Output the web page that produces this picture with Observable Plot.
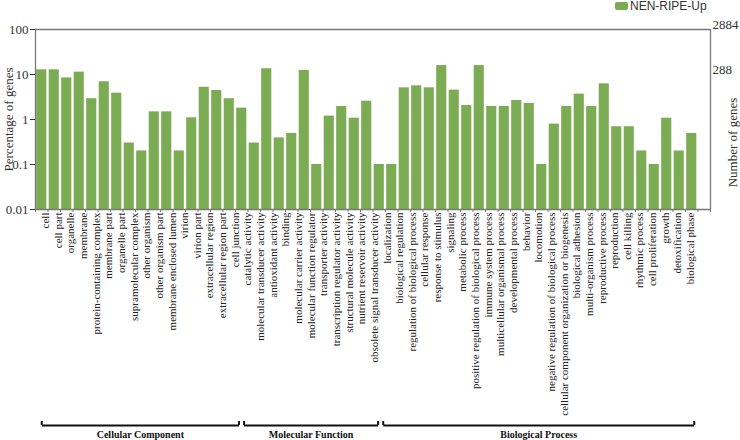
<!DOCTYPE html>
<html><head><meta charset="utf-8">
<script src="https://cdn.jsdelivr.net/npm/d3@7"></script>
<script src="https://cdn.jsdelivr.net/npm/@observablehq/plot@0.6"></script>
<style>
body{margin:0;background:#fff;}
#wrap{position:relative;width:740px;height:440px;}
#legend{position:absolute;left:615px;top:-1px;font:12px "Liberation Sans",Arial,sans-serif;color:#333;display:flex;align-items:center;line-height:14px;}
#legend .sw{width:13px;height:8px;border-radius:2px;margin-right:2px;}
</style></head><body><div id="wrap"><div id="legend"></div></div>
<script>
const terms = ["cell","cell part","organelle","membrane","protein-containing complex","membrane part","organelle part","supramolecular complex","other organism","other organism part","membrane enclosed lumen","virion","virion part","extracellular region","extracellular region part","cell junction",
"catalytic activity","molecular transducer activity","antioxidant activity","binding","molecular carrier activity","molecular function regulator","transporter activity","transcription regulator activity","structural molecule activity","nutrient reservoir activity","obsolete signal transducer activity",
"localization","biological regulation","regulation of biological process","cellular response","response to stimulus","signaling","metabolic process","positive regulation of biological process","immune system process","multicellular organismal process","developmental process","behavior","locomotion","negative regulation of biological process","cellular component organization or biogenesis","biological adhesion","multi-organism process","reproductive process","reproduction","cell killing","rhythmic process","cell proliferation","growth","detoxification","biological phase"];
const groups = ["Cellular Component","Molecular Function","Biological Process"];
const groupSizes = [16, 11, 25];
// bar heights (percentage of genes), left to right, as drawn
const barValues = [12.7,12.7,8.4,11.3,2.9,6.9,3.85,0.30,0.20,1.48,1.48,0.20,1.09,5.2,4.4,2.9,
1.79,0.30,13.4,0.39,0.49,12.3,0.10,1.19,1.95,1.07,2.55,
0.10,0.10,5.06,5.6,5.06,15.8,4.5,2.05,15.8,1.95,1.95,2.64,2.27,0.10,0.79,1.95,3.66,1.95,6.2,0.69,0.69,0.20,0.10,1.07,0.20,0.49];
const seriesName = "NEN-RIPE-Up";
const leftTicks = [0.01, 0.1, 1, 10, 100];
const leftTickLabels = ["0.01","0.1","1","10","100"];
const rightTicks = [100, 10];
const rightTickLabels = ["2884","288"];
const leftTitle = "Percentage of genes";
const rightTitle = "Number of genes";

const green = "#7bab52";
const nSlots = barValues.length + 1;
const labelFirst = 0.8, labelLast = 52.4;
const labelPos = terms.map((_, k) => labelFirst + k * (labelLast - labelFirst) / (terms.length - 1));
const termAt = new Map(labelPos.map((p, k) => [p, terms[k]]));
const bars = barValues.map((v, i) => ({slot: i, value: v}));
let acc = 0;
const groupData = groups.map((g, j) => {
  const a = acc; acc += groupSizes[j];
  const x1 = labelPos[a] - 0.3, x2 = labelPos[acc - 1] + 0.3;
  return {name: g, x1, x2, mid: (x1 + x2) / 2};
});
const bracketEnds = groupData.flatMap(d => [d.x1, d.x2]);

const chart = Plot.plot({
  width: 740, height: 440,
  marginLeft: 35, marginRight: 30, marginTop: 29, marginBottom: 231,
  style: {fontFamily: "'Liberation Serif', serif", background: "transparent", overflow: "visible"},
  x: {type: "linear", domain: [0, nSlots], axis: null},
  y: {type: "log", domain: [0.01, 100], axis: null},
  marks: [
    Plot.rectY(bars, {x1: "slot", x2: d => d.slot + 1, y1: 0.01, y2: "value", fill: green, insetLeft: 1.2, insetRight: 1.2}),
    Plot.ruleX([0, nSlots], {stroke: "#777", strokeWidth: 1.3}),
    Plot.ruleY([0.01, 100], {stroke: "#777", strokeWidth: 1.3}),
    Plot.ruleX(d3.range(0, nSlots + 1), {x: d => d, y1: 0.01, y2: 0.01, insetBottom: -3, stroke: "#777"}),
    Plot.axisY({anchor: "left", ticks: leftTicks, tickFormat: d => leftTickLabels[leftTicks.indexOf(d)], tickSize: 5, tickPadding: 2, fontSize: 13, color: "#333", label: null}),
    Plot.axisY({anchor: "right", ticks: rightTicks, tickFormat: d => rightTickLabels[rightTicks.indexOf(d)], tickSize: 0, tickPadding: 2, fontSize: 13, dy: -5, color: "#333", label: null}),
    Plot.axisX({ticks: labelPos, tickFormat: d => termAt.get(d), tickSize: 0, tickPadding: 3, tickRotate: -90, fontSize: 11, color: "#222", label: null}),
    Plot.text([leftTitle], {text: d => d, frameAnchor: "left", textAnchor: "middle", dx: -27, rotate: -90, fontSize: 13, fill: "#333"}),
    Plot.text([rightTitle], {text: d => d, frameAnchor: "right", textAnchor: "middle", dx: 22, dy: 23, rotate: -90, fontSize: 13, fill: "#333"}),
    Plot.link(groupData, {x1: "x1", x2: "x2", y1: 0.01, y2: 0.01, dy: 216, stroke: "#111", strokeWidth: 2}),
    Plot.ruleX(bracketEnds, {x: d => d, y1: 0.01, y2: 0.01, dy: 216, insetTop: -4, stroke: "#111", strokeWidth: 2}),
    Plot.text(groupData, {x: "mid", y: 0.01, dy: 225, text: "name", fontSize: 10, fontWeight: "bold", fill: "#111"})
  ]
});
const wrap = document.getElementById("wrap");
wrap.appendChild(chart);
const lg = document.getElementById("legend");
const sw = document.createElement("span"); sw.className = "sw"; sw.style.background = green;
const tx = document.createElement("span"); tx.textContent = seriesName;
lg.appendChild(sw); lg.appendChild(tx);
</script></body></html>
